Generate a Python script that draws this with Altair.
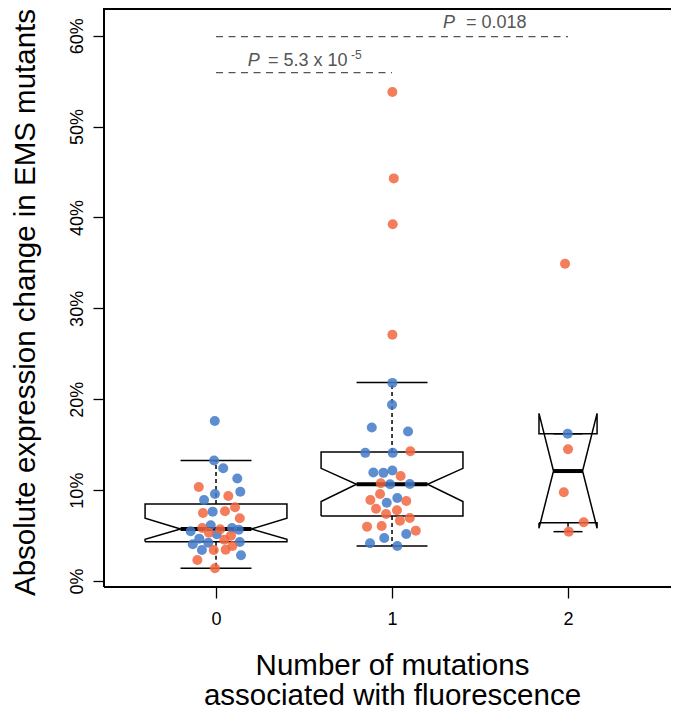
import altair as alt
import pandas as pd

# ---------------- data (values in %) ----------------
# x positions are in axis units (group index + horizontal jitter)
g0_blue_x = [-0.007, -0.011, 0.041, 0.121, 0.138, -0.006, -0.068, -0.019, -0.030, -0.144,
             0.091, 0.129, 0.004, -0.095, -0.132, -0.044, 0.135, -0.080, 0.142]
g0_blue_y = [17.6, 13.25, 12.4, 11.27, 9.83, 9.58, 8.92, 7.63, 6.13, 5.47,
             5.84, 5.65, 5.14, 4.66, 4.04, 4.22, 4.30, 3.41, 2.83]
g0_red_x = [-0.098, 0.070, 0.108, 0.051, -0.074, 0.135, -0.078, -0.040, 0.024, 0.085,
            0.047, 0.093, -0.013, 0.055, -0.106, -0.006]
g0_red_y = [10.35, 9.36, 8.11, 7.67, 7.49, 6.9, 5.84, 5.32, 5.69, 4.99,
            4.55, 3.85, 3.41, 3.45, 2.31, 1.4]

g1_blue_x = [1.002, 1.0, 0.885, 1.091, 0.848, 1.004, 0.894, 0.951, 1.002, 0.989,
             1.101, 0.970, 1.030, 1.081, 0.956, 0.875, 1.030]
g1_blue_y = [21.8, 19.4, 16.9, 16.45, 14.1, 14.1, 11.93, 11.9, 12.15, 10.65,
             10.68, 8.62, 9.14, 5.18, 4.74, 4.15, 3.85]
g1_red_x = [1.002, 1.010, 1.004, 1.002, 1.104, 1.049, 0.936, 0.932, 0.877, 1.081,
            0.909, 0.966, 1.028, 1.045, 1.101, 0.858, 0.941, 1.135]
g1_red_y = [53.8, 44.3, 39.25, 27.1, 14.28, 11.56, 10.76, 9.58, 8.92, 8.81,
            7.96, 7.38, 7.78, 6.64, 6.94, 5.98, 6.06, 5.54]

g2_blue_x = [1.998]
g2_blue_y = [16.2]
g2_red_x = [1.983, 2.0, 1.976, 2.089, 2.004]
g2_red_y = [34.9, 14.5, 9.77, 6.46, 5.43]

# notched box statistics per group
groups = [0, 1, 2]
q1 = [4.33, 7.16, 6.42]
med = [5.73, 10.65, 12.1]
q3 = [8.48, 14.2, 16.2]
notch_lo = [4.6, 8.74, 5.8]
notch_hi = [6.9, 12.4, 18.45]
whisk_lo = [1.4, 3.85, 5.43]
whisk_hi = [13.25, 21.84, 16.2]
half_width = [0.403, 0.403, 0.165]

# significance brackets
brk_x1 = [0, 0]
brk_x2 = [2, 1]
brk_y = [59.9, 55.95]

x_ticks = [0, 1, 2]
y_ticks = [0, 10, 20, 30, 40, 50, 60]

# ---------------- tables ----------------
rows = []
for xs_, ys_, c in [(g0_blue_x, g0_blue_y, "blue"), (g0_red_x, g0_red_y, "red"),
                    (g1_blue_x, g1_blue_y, "blue"), (g1_red_x, g1_red_y, "red"),
                    (g2_blue_x, g2_blue_y, "blue"), (g2_red_x, g2_red_y, "red")]:
    for a, b in zip(xs_, ys_):
        rows.append({"x": a, "y": b, "c": c})
pts = pd.DataFrame(rows)

poly = []
for g, a, m, b, nl, nh, w in zip(groups, q1, med, q3, notch_lo, notch_hi, half_width):
    verts = [(g - w, a), (g - w, nl), (g - w / 2, m), (g - w, nh), (g - w, b),
             (g + w, b), (g + w, nh), (g + w / 2, m), (g + w, nl), (g + w, a), (g - w, a)]
    for i, (vx, vy) in enumerate(verts):
        poly.append({"g": g, "i": i, "x": vx, "y": vy})
poly = pd.DataFrame(poly)

stats = pd.DataFrame({
    "g": groups, "q1": q1, "med": med, "q3": q3, "wl": whisk_lo, "wh": whisk_hi,
    "l": [g - w / 2 for g, w in zip(groups, half_width)],
    "r": [g + w / 2 for g, w in zip(groups, half_width)],
})
caps = pd.concat([
    stats[["l", "r"]].assign(y=stats["wl"]),
    stats[["l", "r"]].assign(y=stats["wh"]),
])
whisk = pd.concat([
    stats[["g"]].assign(y=stats["q3"], y2=stats["wh"]),
    stats[["g"]].assign(y=stats["q1"], y2=stats["wl"]),
])
brk = pd.DataFrame({"x": brk_x1, "x2": brk_x2, "y": brk_y})

txt_p = pd.DataFrame({"x": [1.2898, 0.1801], "y": [60.8, 56.7], "t": ["P", "P"]})
txt_v = pd.DataFrame({"x": [1.4205, 0.2955], "y": [60.8, 56.7], "t": ["= 0.018", "= 5.3 x 10"]})
txt_s = pd.DataFrame({"x": [0.7665], "y": [57.45], "t": ["-5"]})

# ---------------- chart ----------------
FONT = "Liberation Sans"
W, H = 567, 579
xs = alt.Scale(domain=[-0.6364, 2.585], nice=False, zero=False)
ys = alt.Scale(domain=[-0.66, 63.05], nice=False, zero=False)

x_axis = alt.Axis(values=x_ticks, format="d", grid=False, domain=False,
                  tickSize=11, tickWidth=1.3, tickColor="black",
                  labelFontSize=18, labelFont=FONT, labelColor="black",
                  labelBaseline="alphabetic", labelPadding=26,
                  title=["Number of mutations", "associated with fluorescence"],
                  titleFont=FONT, titleFontSize=29.5, titleFontWeight="normal",
                  titleColor="black", titleBaseline="alphabetic", titleLineHeight=30,
                  titleX=288, titleY=87, titleAlign="center")
y_axis = alt.Axis(values=y_ticks, labelExpr="datum.value + '%'", grid=False, domain=False,
                  tickSize=11, tickWidth=1.3, tickColor="black",
                  labelFontSize=18, labelFont=FONT, labelColor="black",
                  labelAngle=270, labelAlign="center", labelBaseline="alphabetic",
                  labelPadding=11,
                  title="Absolute expression change in EMS mutants",
                  titleFont=FONT, titleFontSize=29.5, titleFontWeight="normal",
                  titleColor="black", titleAngle=270, titleBaseline="alphabetic",
                  titleAlign="center", titleX=-70, titleY=294)

box = alt.Chart(poly).mark_line(color="black", strokeWidth=1.5).encode(
    x=alt.X("x:Q", scale=xs, axis=x_axis),
    y=alt.Y("y:Q", scale=ys, axis=y_axis),
    detail="g:N", order="i:Q")

whisk_l = alt.Chart(whisk).mark_rule(color="black", strokeWidth=1.5, strokeDash=[4, 3]).encode(
    x=alt.X("g:Q", scale=xs, axis=x_axis),
    y=alt.Y("y:Q", scale=ys, axis=y_axis), y2="y2:Q")

caps_l = alt.Chart(caps).mark_rule(color="black", strokeWidth=1.5).encode(
    x=alt.X("l:Q", scale=xs, axis=x_axis), x2="r:Q",
    y=alt.Y("y:Q", scale=ys, axis=y_axis))

med_l = alt.Chart(stats).mark_rule(color="black", strokeWidth=4).encode(
    x=alt.X("l:Q", scale=xs, axis=x_axis), x2="r:Q",
    y=alt.Y("med:Q", scale=ys, axis=y_axis))

pts_l = alt.Chart(pts).mark_circle(size=100, opacity=0.85).encode(
    x=alt.X("x:Q", scale=xs, axis=x_axis),
    y=alt.Y("y:Q", scale=ys, axis=y_axis),
    color=alt.Color("c:N", scale=alt.Scale(domain=["blue", "red"],
                                           range=["#4279C8", "#F2663F"]), legend=None))

brk_l = alt.Chart(brk).mark_rule(color="#555555", strokeWidth=1.3, strokeDash=[7, 5.5]).encode(
    x=alt.X("x:Q", scale=xs, axis=x_axis), x2="x2:Q",
    y=alt.Y("y:Q", scale=ys, axis=y_axis))

tp = alt.Chart(txt_p).mark_text(font=FONT, fontSize=18, fontStyle="italic", color="#555555",
                                align="left", baseline="alphabetic").encode(
    x=alt.X("x:Q", scale=xs, axis=x_axis), y=alt.Y("y:Q", scale=ys, axis=y_axis), text="t:N")
tv = alt.Chart(txt_v).mark_text(font=FONT, fontSize=18, color="#555555",
                                align="left", baseline="alphabetic").encode(
    x=alt.X("x:Q", scale=xs, axis=x_axis), y=alt.Y("y:Q", scale=ys, axis=y_axis), text="t:N")
ts = alt.Chart(txt_s).mark_text(font=FONT, fontSize=12, color="#555555",
                                align="left", baseline="alphabetic").encode(
    x=alt.X("x:Q", scale=xs, axis=x_axis), y=alt.Y("y:Q", scale=ys, axis=y_axis), text="t:N")

# plot frame: top, left and bottom edges (the right edge lies outside the reference picture)
frame_top = alt.Chart(pts).mark_rule(color="black", strokeWidth=1.5).encode(
    x=alt.value(0), x2=alt.value(W), y=alt.value(0.75))
frame_left = alt.Chart(pts).mark_rule(color="black", strokeWidth=1.5).encode(
    x=alt.value(0), y=alt.value(0), y2=alt.value(H))
frame_bot = alt.Chart(pts).mark_rule(color="black", strokeWidth=1.5).encode(
    x=alt.value(0), x2=alt.value(W), y=alt.value(H))

chart = alt.layer(box, whisk_l, caps_l, med_l, pts_l, brk_l, tp, tv, ts,
                  frame_top, frame_left, frame_bot).properties(
    width=W, height=H,
    autosize=alt.AutoSizeParams(type="none"),
    padding={"left": 96, "top": 0, "right": 0, "bottom": 125},
    background="white",
).configure_view(stroke=None)

chart.save("out.html", embed_options={"renderer": "svg", "actions": False})
